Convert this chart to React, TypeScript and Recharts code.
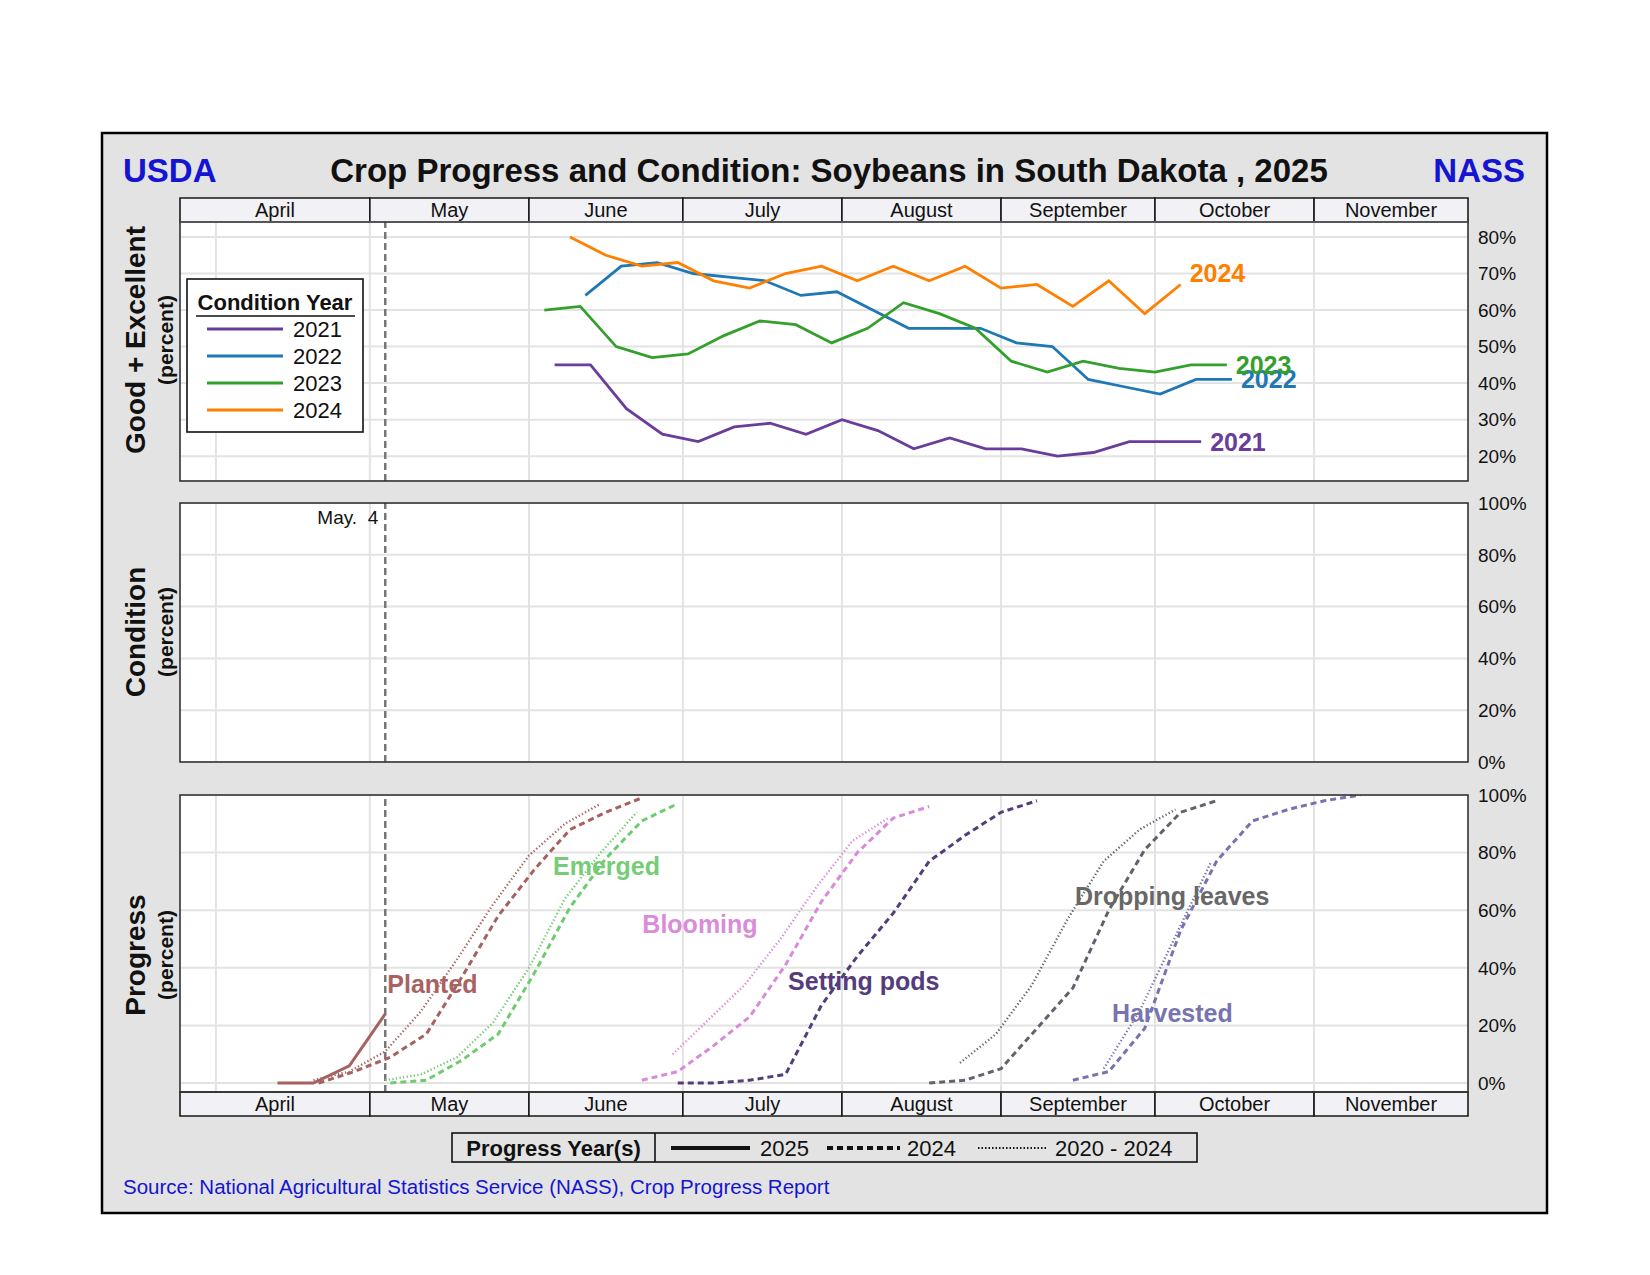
import React from 'react';
import {
  LineChart,
  Line,
  XAxis,
  YAxis,
  CartesianGrid,
  ReferenceLine,
  ReferenceArea,
  ReferenceDot,
  LabelList,
} from 'recharts';

const FONT = '"Liberation Sans", Arial, Helvetica, sans-serif';

// ---------- x axis: day of year (2025 calendar) ----------
const X_MIN = 84;
const X_MAX = 335;
const months = ['April', 'May', 'June', 'July', 'August', 'September', 'October', 'November'];
const monthStarts = [91, 121, 152, 182, 213, 244, 274, 305];
const monthEnds = [121, 152, 182, 213, 244, 274, 305, 335];
const markerDay = 124;
const markerLabel = 'May.  4';

// ---------- tick values ----------
const conditionTicks = [20, 30, 40, 50, 60, 70, 80];
const percentTicks = [0, 20, 40, 60, 80, 100];

// ---------- Good + Excellent condition by year ----------
const cond2021Days = [157, 164, 171, 178, 185, 192, 199, 206, 213, 220, 227, 234, 241, 248, 255, 262, 269, 276, 283];
const cond2021 = [45, 45, 33, 26, 24, 28, 29, 26, 30, 27, 22, 25, 22, 22, 20, 21, 24, 24, 24];
const cond2022Days = [163, 170, 177, 184, 191, 198, 205, 212, 219, 226, 233, 240, 247, 254, 261, 268, 275, 282, 289];
const cond2022 = [64, 72, 73, 70, 69, 68, 64, 65, 60, 55, 55, 55, 51, 50, 41, 39, 37, 41, 41];
const cond2023Days = [155, 162, 169, 176, 183, 190, 197, 204, 211, 218, 225, 232, 239, 246, 253, 260, 267, 274, 281, 288];
const cond2023 = [60, 61, 50, 47, 48, 53, 57, 56, 51, 55, 62, 59, 55, 46, 43, 46, 44, 43, 45, 45];
const cond2024Days = [160, 167, 174, 181, 188, 195, 202, 209, 216, 223, 230, 237, 244, 251, 258, 265, 272, 279];
const cond2024 = [80, 75, 72, 73, 68, 66, 70, 72, 68, 72, 68, 72, 66, 67, 61, 68, 59, 67];

// ---------- Progress ----------
const planted2025Days = [103, 110, 117, 124];
const planted2025 = [0, 0, 6, 24];
const planted2024Days = [111, 118, 125, 132, 139, 146, 153, 160, 167, 174];
const planted2024 = [0, 4, 9, 17, 37, 58, 74, 88, 94, 99];
const plantedAvgDays = [110, 117, 124, 131, 138, 145, 152, 159, 166];
const plantedAvg = [1, 4, 11, 25, 43, 62, 79, 90, 97];

const emerged2024Days = [125, 132, 139, 146, 153, 160, 167, 174, 181];
const emerged2024 = [0, 1, 8, 17, 38, 61, 78, 91, 97];
const emergedAvgDays = [124, 131, 138, 145, 152, 159, 166, 173];
const emergedAvg = [1, 3, 9, 21, 40, 64, 80, 94];

const blooming2024Days = [174, 181, 188, 195, 202, 209, 216, 223, 230];
const blooming2024 = [1, 4, 13, 23, 41, 63, 80, 92, 96];
const bloomingAvgDays = [180, 187, 194, 201, 208, 215, 222];
const bloomingAvg = [10, 22, 34, 50, 68, 84, 92];

const pods2024Days = [181, 188, 195, 202, 209, 216, 223, 230, 237, 244, 251];
const pods2024 = [0, 0, 1, 3, 27, 44, 59, 77, 86, 94, 98];

const leaves2024Days = [230, 237, 244, 251, 258, 265, 272, 279, 286];
const leaves2024 = [0, 1, 5, 19, 33, 60, 81, 94, 98];
const leavesAvgDays = [236, 243, 250, 257, 264, 271, 278];
const leavesAvg = [7, 17, 34, 57, 77, 88, 95];

const harvested2024Days = [258, 265, 272, 279, 286, 293, 300, 307, 314];
const harvested2024 = [1, 4, 19, 53, 77, 91, 95, 98, 100];
const harvestedAvgDays = [264, 271, 278, 285];
const harvestedAvg = [5, 25, 51, 77];

const stageNames = ['Planted', 'Emerged', 'Blooming', 'Setting pods', 'Dropping leaves', 'Harvested'];
const legendYears = ['2025', '2024', '2020 - 2024'];

// ---------- build series ----------
const toSeries = (days: number[], vals: number[]) => days.map((d, i) => ({ day: d, v: vals[i] }));

const conditionSeries = [
  { year: '2021', color: '#6a3d9a', data: toSeries(cond2021Days, cond2021), dy: 0 },
  { year: '2022', color: '#1f78b4', data: toSeries(cond2022Days, cond2022), dy: 0 },
  { year: '2023', color: '#33a02c', data: toSeries(cond2023Days, cond2023), dy: 0 },
  { year: '2024', color: '#ff7f00', data: toSeries(cond2024Days, cond2024), dy: -11 },
];

const stageColors = ['#a66161', '#6fcb6f', '#d98ad9', '#533d7a', '#62626e', '#7773ae'];
const stageLabelColors = ['#a96262', '#77cc77', '#d98cd9', '#553c7c', '#676767', '#7874b0'];
// label anchor (left edge, vertical centre) in data coordinates
const stageLabelAnchor = [
  [124.4, 34.4],
  [156.7, 75.3],
  [174.1, 55.2],
  [202.5, 35.4],
  [258.4, 64.9],
  [265.6, 24.3],
];

const stageSeries = [
  { cur: toSeries(planted2025Days, planted2025), prev: toSeries(planted2024Days, planted2024), avg: toSeries(plantedAvgDays, plantedAvg) },
  { cur: null, prev: toSeries(emerged2024Days, emerged2024), avg: toSeries(emergedAvgDays, emergedAvg) },
  { cur: null, prev: toSeries(blooming2024Days, blooming2024), avg: toSeries(bloomingAvgDays, bloomingAvg) },
  { cur: null, prev: toSeries(pods2024Days, pods2024), avg: null },
  { cur: null, prev: toSeries(leaves2024Days, leaves2024), avg: toSeries(leavesAvgDays, leavesAvg) },
  { cur: null, prev: toSeries(harvested2024Days, harvested2024), avg: toSeries(harvestedAvgDays, harvestedAvg) },
];

// ---------- layout ----------
const PLOT_LEFT = 180;
const PLOT_W = 1288;
const AXIS_W = 90;
const PAD = 14;
const HEADER_TOP = { top: 198, h: 24 };
const P1 = { top: 222, h: 259 };
const P2 = { top: 503, h: 259 };
const P3 = { top: 795, h: 297 };
const HEADER_BOTTOM = { top: 1092, h: 24 };

const GRID = '#e3e3e3';
const DASH_2024 = '6 4';
const DOT_AVG = '1.3 2.3';

function MonthHeader({ top, h }: { top: number; h: number }) {
  return (
    <div style={{ position: 'absolute', left: PLOT_LEFT, top: top - PAD, zIndex: 1 }}>
      <LineChart width={PLOT_W} height={h + 2 * PAD} margin={{ top: PAD, right: 0, bottom: PAD, left: 0 }}>
        <XAxis type="number" dataKey="day" domain={[X_MIN, X_MAX]} hide allowDataOverflow />
        <YAxis type="number" domain={[0, 1]} hide allowDataOverflow />
        {months.map((m, i) => (
          <ReferenceArea
            key={m}
            x1={i === 0 ? X_MIN : monthStarts[i]}
            x2={monthEnds[i]}
            y1={0}
            y2={1}
            fill="#f1f1f6"
            fillOpacity={1}
            stroke="#1a1a1a"
            strokeWidth={1.6}
            ifOverflow="visible"
            label={{ value: m, position: 'center', fontSize: 20, fill: '#111', fontFamily: FONT }}
          />
        ))}
      </LineChart>
    </div>
  );
}

function panelAxes(domain: [number, number], ticks: number[]) {
  return [
    <XAxis key="x" type="number" dataKey="day" domain={[X_MIN, X_MAX]} hide allowDataOverflow />,
    <YAxis
      key="y"
      orientation="right"
      width={AXIS_W}
      type="number"
      domain={domain}
      ticks={ticks}
      interval={0}
      allowDataOverflow
      tickFormatter={(v: number) => `${v}%`}
      axisLine={false}
      tickLine={false}
      tickSize={0}
      tickMargin={10}
      tick={{ fontSize: 19, fill: '#111', fontFamily: FONT }}
    />,
    <CartesianGrid key="g" vertical={false} stroke={GRID} strokeWidth={2} />,
    ...monthStarts.map((d) => <ReferenceLine key={'m' + d} x={d} stroke={GRID} strokeWidth={2} />),
  ];
}

const markerLine = (withLabel: boolean) => (
  <ReferenceLine
    key="marker"
    x={markerDay}
    stroke="#777"
    strokeWidth={2.5}
    strokeDasharray="7 4"
    label={
      withLabel
        ? (p: any) => (
            <text
              x={p.viewBox.x - 7}
              y={p.viewBox.y + 14}
              textAnchor="end"
              dominantBaseline="central"
              fontSize={19}
              fontFamily={FONT}
              fill="#111"
              style={{ whiteSpace: 'pre' }}
            >
              {markerLabel}
            </text>
          )
        : undefined
    }
  />
);

function ConditionPanel() {
  return (
    <div style={{ position: 'absolute', left: PLOT_LEFT, top: P1.top - PAD, zIndex: 1 }}>
      <LineChart width={PLOT_W + AXIS_W} height={P1.h + 2 * PAD} margin={{ top: PAD, right: 0, bottom: PAD, left: 0 }}>
        {panelAxes([13.2, 84.1], conditionTicks)}
        {markerLine(false)}
        {conditionSeries.map((s) => (
          <Line
            key={s.year}
            data={s.data}
            dataKey="v"
            type="linear"
            stroke={s.color}
            strokeWidth={2.8}
            dot={false}
            isAnimationActive={false}
          >
            <LabelList
              dataKey="v"
              content={(p: any) =>
                p.index === s.data.length - 1 ? (
                  <text
                    x={p.x + 9}
                    y={p.y + s.dy}
                    dominantBaseline="central"
                    fontSize={25}
                    fontWeight="bold"
                    fontFamily={FONT}
                    fill={s.color}
                  >
                    {s.year}
                  </text>
                ) : null
              }
            />
          </Line>
        ))}
      </LineChart>
    </div>
  );
}

function EmptyConditionPanel() {
  return (
    <div style={{ position: 'absolute', left: PLOT_LEFT, top: P2.top - PAD, zIndex: 1 }}>
      <LineChart width={PLOT_W + AXIS_W} height={P2.h + 2 * PAD} margin={{ top: PAD, right: 0, bottom: PAD, left: 0 }}>
        {panelAxes([0, 100], percentTicks)}
        {markerLine(true)}
      </LineChart>
    </div>
  );
}

function ProgressPanel() {
  const lines: any[] = [];
  stageSeries.forEach((s, i) => {
    if (s.avg)
      lines.push(
        <Line key={'a' + i} data={s.avg} dataKey="v" type="linear" stroke={stageColors[i]} strokeWidth={2.3}
          strokeDasharray={DOT_AVG} dot={false} isAnimationActive={false} />
      );
    if (s.prev)
      lines.push(
        <Line key={'p' + i} data={s.prev} dataKey="v" type="linear" stroke={stageColors[i]} strokeWidth={3}
          strokeDasharray={DASH_2024} dot={false} isAnimationActive={false} />
      );
    if (s.cur)
      lines.push(
        <Line key={'c' + i} data={s.cur} dataKey="v" type="linear" stroke={stageColors[i]} strokeWidth={3}
          dot={false} isAnimationActive={false} />
      );
  });
  return (
    <div style={{ position: 'absolute', left: PLOT_LEFT, top: P3.top - PAD, zIndex: 1 }}>
      <LineChart width={PLOT_W + AXIS_W} height={P3.h + 2 * PAD} margin={{ top: PAD, right: 0, bottom: PAD, left: 0 }}>
        {panelAxes([-3.1, 100], percentTicks)}
        {markerLine(false)}
        {lines}
        {stageNames.map((name, i) => (
          <ReferenceDot
            key={name}
            x={stageLabelAnchor[i][0]}
            y={stageLabelAnchor[i][1]}
            r={0}
            ifOverflow="visible"
            shape={(p: any) => (
              <text
                x={p.cx}
                y={p.cy}
                dominantBaseline="central"
                fontSize={25}
                fontWeight="bold"
                fontFamily={FONT}
                fill={stageLabelColors[i]}
              >
                {name}
              </text>
            )}
          />
        ))}
      </LineChart>
    </div>
  );
}

function Background() {
  const panels = [P1, P2, P3];
  return (
    <svg width={1650} height={1275} style={{ position: 'absolute', left: 0, top: 0, zIndex: 0 }}>
      <rect x={102} y={133} width={1445} height={1080} fill="#e3e3e3" stroke="#000" strokeWidth={2.5} />
      {panels.map((p, i) => (
        <rect key={i} x={PLOT_LEFT} y={p.top} width={PLOT_W} height={p.h} fill="#fff" />
      ))}
      <text x={123} y={170} dominantBaseline="central" fontSize={33} fontWeight="bold" fill="#1414d2" fontFamily={FONT}>USDA</text>
      <text x={1525} y={170} dominantBaseline="central" textAnchor="end" fontSize={33} fontWeight="bold" fill="#1414d2" fontFamily={FONT}>NASS</text>
      <text x={829} y={170} dominantBaseline="central" textAnchor="middle" fontSize={33} fontWeight="bold" fill="#111" fontFamily={FONT}>
        Crop Progress and Condition: Soybeans in South Dakota , 2025
      </text>
      {[
        { t: 'Good + Excellent', cy: 340 },
        { t: 'Condition', cy: 632 },
        { t: 'Progress', cy: 955 },
      ].map((a) => (
        <g key={a.t}>
          <text x={135} y={a.cy} transform={`rotate(-90 135 ${a.cy})`} textAnchor="middle" dominantBaseline="central"
            fontSize={28} fontWeight="bold" fill="#111" fontFamily={FONT}>{a.t}</text>
          <text x={165} y={a.cy} transform={`rotate(-90 165 ${a.cy})`} textAnchor="middle" dominantBaseline="central"
            fontSize={21} fontWeight="bold" fill="#111" fontFamily={FONT}>(percent)</text>
        </g>
      ))}
      {/* progress-year legend */}
      <rect x={452} y={1133} width={745} height={29} fill="none" stroke="#111" strokeWidth={1.6} />
      <line x1={655} y1={1133} x2={655} y2={1162} stroke="#111" strokeWidth={1.6} />
      <text x={553.5} y={1148} textAnchor="middle" dominantBaseline="central" fontSize={22} fontWeight="bold" fill="#111" fontFamily={FONT}>Progress Year(s)</text>
      <line x1={671} y1={1148} x2={750} y2={1148} stroke="#111" strokeWidth={4} />
      <text x={760} y={1148} dominantBaseline="central" fontSize={22} fill="#111" fontFamily={FONT}>{legendYears[0]}</text>
      <line x1={827} y1={1148} x2={900} y2={1148} stroke="#111" strokeWidth={4} strokeDasharray="6 4" />
      <text x={907} y={1148} dominantBaseline="central" fontSize={22} fill="#111" fontFamily={FONT}>{legendYears[1]}</text>
      <line x1={978} y1={1148} x2={1048} y2={1148} stroke="#111" strokeWidth={2} strokeDasharray="1.5 2" />
      <text x={1055} y={1148} dominantBaseline="central" fontSize={22} fill="#111" fontFamily={FONT}>{legendYears[2]}</text>
      <text x={123} y={1186} dominantBaseline="central" fontSize={20.5} fill="#1414d2" fontFamily={FONT}>
        Source: National Agricultural Statistics Service (NASS), Crop Progress Report
      </text>
    </svg>
  );
}

function Overlay() {
  const panels = [P1, P2, P3];
  const rows = [329, 356, 383, 410];
  return (
    <svg width={1650} height={1275} style={{ position: 'absolute', left: 0, top: 0, zIndex: 2, pointerEvents: 'none' }}>
      {panels.map((p, i) => (
        <rect key={i} x={PLOT_LEFT} y={p.top} width={PLOT_W} height={p.h} fill="none" stroke="#333" strokeWidth={1.6} />
      ))}
      {/* condition-year legend */}
      <rect x={187} y={279} width={176} height={153} fill="#fff" stroke="#111" strokeWidth={1.6} />
      <text x={275} y={302} textAnchor="middle" dominantBaseline="central" fontSize={22} fontWeight="bold" fill="#111" fontFamily={FONT}>
        Condition Year
      </text>
      <line x1={196} y1={316} x2={355} y2={316} stroke="#111" strokeWidth={1.5} />
      {conditionSeries.map((s, i) => (
        <g key={s.year}>
          <line x1={207} y1={rows[i]} x2={283} y2={rows[i]} stroke={s.color} strokeWidth={3} />
          <text x={293} y={rows[i]} dominantBaseline="central" fontSize={22} fill="#111" fontFamily={FONT}>{s.year}</text>
        </g>
      ))}
    </svg>
  );
}

export default function App() {
  return (
    <div style={{ position: 'absolute', left: 0, top: 0, width: 1650, height: 1275, background: '#fff', overflow: 'hidden', fontFamily: FONT }}>
      <style>{`.recharts-surface{overflow:visible}`}</style>
      <Background />
      <MonthHeader top={HEADER_TOP.top} h={HEADER_TOP.h} />
      <ConditionPanel />
      <EmptyConditionPanel />
      <ProgressPanel />
      <MonthHeader top={HEADER_BOTTOM.top} h={HEADER_BOTTOM.h} />
      <Overlay />
    </div>
  );
}
